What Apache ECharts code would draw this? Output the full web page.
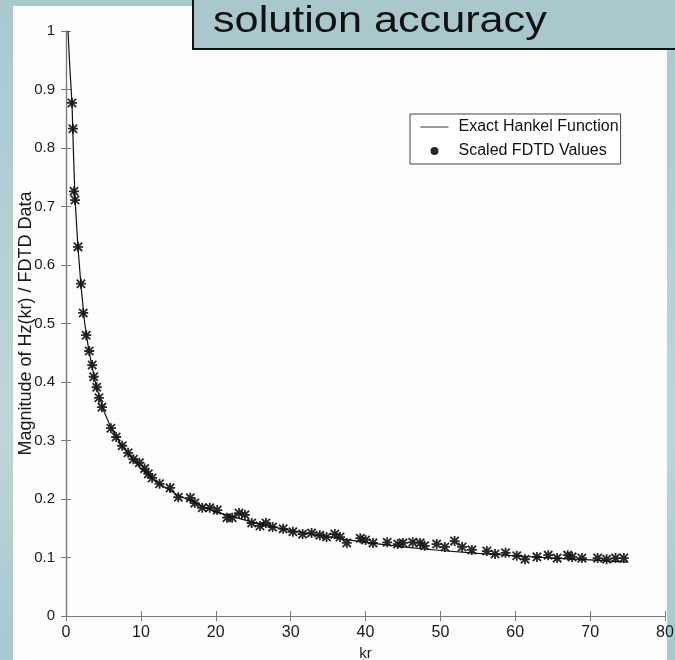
<!DOCTYPE html>
<html>
<head>
<meta charset="utf-8">
<script src="https://cdn.jsdelivr.net/npm/echarts@6/dist/echarts.min.js"></script>
<style>
  html, body { margin: 0; padding: 0; }
  body { background: linear-gradient(180deg, #a9c9cc 0%, #bcd7da 65%, #a8c8cb 100%); }
  #charts { width: 675px; height: 660px; }
</style>
</head>
<body>
<div id="charts"></div>
<script>
// exact Hankel curve
var lineKr  = [0.27, 0.5, 0.8, 1.0, 1.2, 1.6, 2.0, 2.5, 3.0, 3.5, 4.0, 5.0, 6.0, 7.5, 10, 12, 15, 20, 25, 30, 35, 40, 45, 50, 55, 60, 65, 70, 75];
var lineVal = [1.0, 0.94, 0.877, 0.79, 0.715, 0.63, 0.565, 0.50, 0.458, 0.425, 0.395, 0.352, 0.322, 0.290, 0.252, 0.230, 0.206, 0.178, 0.160, 0.146, 0.135, 0.126, 0.118, 0.112, 0.107, 0.103, 0.099, 0.096, 0.092];

// scaled FDTD samples
var fdtdKr  = [0.8, 0.93, 1.07, 1.2, 1.6, 2.0, 2.3, 2.7, 3.1, 3.5, 3.7, 4.1, 4.4, 4.8, 6.0, 6.7, 7.5, 8.3, 9.0, 9.8,
               10.5, 11.0, 11.5, 12.5, 13.9, 15.0, 16.6, 17.2, 18.2, 19.2, 20.2, 21.5, 22.2, 23.1, 23.9, 24.8, 25.9, 26.7, 27.6, 29.0,
               30.3, 31.6, 32.8, 33.9, 34.8, 35.9, 36.6, 37.5, 39.3, 40.0, 41.0, 42.9, 44.3, 45.0, 46.3, 47.3, 47.9, 49.5, 50.6, 51.9,
               52.9, 54.2, 56.2, 57.3, 58.7, 60.2, 61.3, 62.9, 64.4, 65.6, 67.0, 67.6, 68.9, 71.0, 72.2, 73.4, 74.5];
var fdtdVal = [0.877, 0.833, 0.726, 0.711, 0.631, 0.568, 0.518, 0.480, 0.453, 0.429, 0.409, 0.391, 0.373, 0.357, 0.321, 0.306, 0.291, 0.279, 0.268, 0.262,
               0.252, 0.243, 0.236, 0.226, 0.219, 0.203, 0.202, 0.193, 0.185, 0.185, 0.181, 0.168, 0.168, 0.176, 0.173, 0.159, 0.154, 0.159, 0.152, 0.149,
               0.144, 0.140, 0.142, 0.138, 0.135, 0.140, 0.135, 0.125, 0.133, 0.130, 0.125, 0.126, 0.123, 0.125, 0.126, 0.125, 0.120, 0.123, 0.118, 0.128,
               0.118, 0.113, 0.111, 0.106, 0.108, 0.103, 0.097, 0.101, 0.104, 0.099, 0.104, 0.101, 0.099, 0.099, 0.097, 0.099, 0.099];

var xTicks = [0, 80, 10];   // min, max, step
var yTicks = [0, 1, 0.1];

var titleText = 'solution accuracy';
var xName = 'kr';
var yName = 'Magnitude of Hz(kr) / FDTD Data';
var names = ['Exact Hankel Function', 'Scaled FDTD Values'];

var asterisk = 'path://M4.1 0L5.9 0L5.9 10L4.1 10Z M0 4.1L10 4.1L10 5.9L0 5.9Z M0.2 1.5L1.5 0.2L9.8 8.5L8.5 9.8Z M8.5 0.2L9.8 1.5L1.5 9.8L0.2 8.5Z M3 3L7 3L7 7L3 7Z';

function zip(a, b) {
    var out = [];
    for (var i = 0; i < a.length; i++) {
        out.push([a[i], b[i]]);
    }
    return out;
}

var myChart = echarts.init(document.getElementById('charts'));
var font = '"Liberation Sans", Arial, Helvetica, sans-serif';
var axisGray = '#7a7a7a';

function axisBase(extra) {
    var a = {
        axisLine: { show: true, lineStyle: { color: axisGray, width: 1.2 } },
        axisTick: { show: true, inside: true, length: 5, lineStyle: { color: axisGray } },
        splitLine: { show: false },
        axisLabel: { color: '#1a1a1a', fontFamily: font, fontSize: 16 }
    };
    for (var k in extra) a[k] = extra[k];
    return a;
}

var option = {
    animation: false,
    backgroundColor: 'transparent',
    textStyle: { fontFamily: font },
    graphic: [
        { type: 'rect', z: -10, silent: true, shape: { x: 13, y: 6, width: 654, height: 660 }, style: { fill: '#fdfdfd' } },
        { type: 'rect', z: 100, shape: { x: 193, y: -6, width: 500, height: 55 }, style: { fill: '#a8c8cb', stroke: '#111', lineWidth: 2 } },
        { type: 'text', z: 101, x: 213, y: 4, scaleX: 1.2, style: { text: titleText, fill: '#111', font: '36px ' + font } }
    ],
    legend: {
        orient: 'vertical',
        left: 410,
        top: 114,
        width: 210,
        backgroundColor: '#fff',
        borderColor: '#444',
        borderWidth: 1,
        borderRadius: 0,
        padding: [5, 2, 5, 10],
        itemGap: 8,
        itemWidth: 28,
        itemHeight: 8,
        textStyle: { fontSize: 16, color: '#111', fontFamily: font, padding: [0, 0, 0, 5] },
        data: [
            { name: names[0], itemStyle: { color: 'rgba(0,0,0,0)', borderWidth: 0 }, lineStyle: { color: '#333', width: 1 } },
            { name: names[1], icon: 'circle', itemStyle: { color: '#111' } }
        ]
    },
    grid: { left: 66, right: 10, top: 31, bottom: 44, containLabel: false, outerBoundsMode: 'none' },
    xAxis: [
        axisBase({
            type: 'value', min: xTicks[0], max: xTicks[1], interval: xTicks[2],
            name: xName, nameLocation: 'middle', nameGap: 30,
            nameTextStyle: { fontSize: 15, color: '#1a1a1a', fontFamily: font },
            axisLabel: { color: '#1a1a1a', fontFamily: font, fontSize: 16, margin: 9 }
        }),
        axisBase({
            type: 'value', position: 'top', min: xTicks[0], max: xTicks[1], interval: xTicks[2],
            axisLabel: { show: false }
        })
    ],
    yAxis: [
        axisBase({
            type: 'value', min: yTicks[0], max: yTicks[1], interval: yTicks[2],
            name: yName, nameLocation: 'middle', nameGap: 31, nameRotate: 90, nameMoveOverlap: false,
            nameTextStyle: { fontSize: 18, color: '#1a1a1a', fontFamily: font },
            axisLabel: { color: '#1a1a1a', fontFamily: font, fontSize: 15, margin: 11 }
        }),
        axisBase({
            type: 'value', position: 'right', min: yTicks[0], max: yTicks[1], interval: yTicks[2],
            axisLabel: { show: false }
        })
    ],
    series: [
        {
            name: names[0],
            type: 'line',
            symbol: 'none',
            clip: true,
            color: '#111',
            lineStyle: { color: '#111', width: 1.2 },
            data: zip(lineKr, lineVal)
        },
        {
            name: names[1],
            type: 'scatter',
            symbol: asterisk,
            symbolSize: 10,
            itemStyle: { color: '#111', opacity: 0.9 },
            data: zip(fdtdKr, fdtdVal)
        }
    ]
};
myChart.setOption(option);
</script>
</body>
</html>
